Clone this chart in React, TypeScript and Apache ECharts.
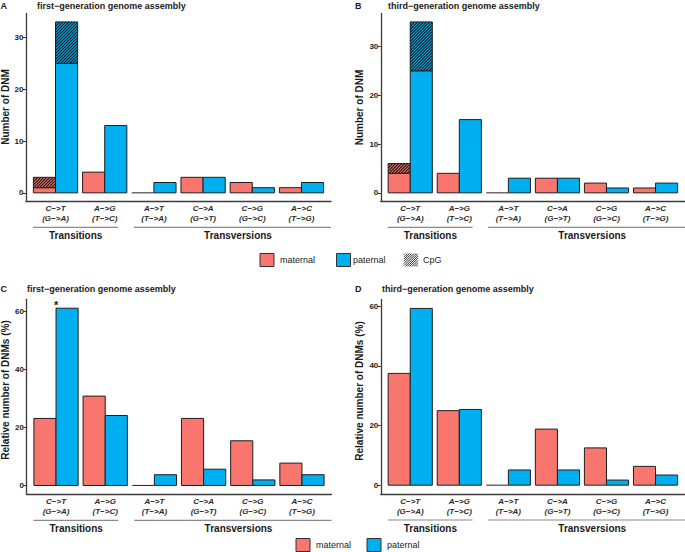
import React, { useEffect, useRef } from "react";
import * as echarts from "echarts";

// ---------- data ----------
const categories = [
  "C−>T\n(G−>A)",
  "A−>G\n(T−>C)",
  "A−>T\n(T−>A)",
  "C−>A\n(G−>T)",
  "C−>G\n(G−>C)",
  "A−>C\n(T−>G)",
];

// Panel A: first-generation genome assembly, counts (non-CpG part + CpG part)
const firstMaternalNonCpG = [1, 4, 0, 3, 2, 1];
const firstMaternalCpG = [2, 0, 0, 0, 0, 0];
const firstPaternalNonCpG = [25, 13, 2, 3, 1, 2];
const firstPaternalCpG = [8, 0, 0, 0, 0, 0];

// Panel B: third-generation genome assembly, counts
const thirdMaternalNonCpG = [4, 4, 0, 3, 2, 1];
const thirdMaternalCpG = [2, 0, 0, 0, 0, 0];
const thirdPaternalNonCpG = [25, 15, 3, 3, 1, 2];
const thirdPaternalCpG = [10, 0, 0, 0, 0, 0];

// Panel C: first-generation, relative (%)
const firstMaternalPct = [23.1, 30.8, 0, 23.1, 15.4, 7.7];
const firstPaternalPct = [61.1, 24.1, 3.7, 5.6, 1.9, 3.7];

// Panel D: third-generation, relative (%)
const thirdMaternalPct = [37.5, 25.0, 0, 18.8, 12.5, 6.3];
const thirdPaternalPct = [59.3, 25.4, 5.1, 5.1, 1.7, 3.4];

const countTicks = [0, 10, 20, 30];
const pctTicks = [0, 20, 40, 60];
const categoryPositions = [0, 1, 2, 3, 4, 5];

// ---------- style ----------
const MAT = "#F8766D";
const PAT = "#00AFEF";
const FONT = "'Liberation Sans', Arial, Helvetica, sans-serif";
const TXT = "#1a1a1a";

type Item = [number, number, number, number, number];

function buildCountItems(mb: number[], mc: number[], pb: number[], pc: number[]): Item[] {
  const items: Item[] = [];
  categories.forEach((_, i) => {
    items.push([i, 0, mb[i], 0, 0]);
    if (mc[i] > 0) items.push([i, mb[i], mb[i] + mc[i], 0, 1]);
    items.push([i, 0, pb[i], 1, 0]);
    if (pc[i] > 0) items.push([i, pb[i], pb[i] + pc[i], 1, 1]);
  });
  return items;
}

function buildPctItems(m: number[], p: number[]): Item[] {
  const items: Item[] = [];
  categories.forEach((_, i) => {
    items.push([i, 0, m[i], 0, 0]);
    items.push([i, 0, p[i], 1, 0]);
  });
  return items;
}

function hatchLines(x: number, y: number, w: number, h: number, step: number, stroke: string, lw: number) {
  const out: any[] = [];
  for (let c = x + y + step / 2; c < x + w + y + h; c += step) {
    const xa = Math.max(x, c - (y + h));
    const xb = Math.min(x + w, c - y);
    if (xb <= xa) continue;
    out.push({
      type: "line",
      shape: { x1: xa, y1: c - xa, x2: xb, y2: c - xb },
      style: { stroke, lineWidth: lw },
      silent: true,
    });
  }
  return out;
}

const renderBar = (params: any, api: any) => {
  const i = api.value(0);
  const lo = api.value(1);
  const hi = api.value(2);
  const side = api.value(3);
  const hatch = api.value(4);
  const x0 = side === 0 ? i - 0.45 : i;
  const x1 = x0 + 0.45;
  const p0 = api.coord([x0, lo]);
  const p1 = api.coord([x1, hi]);
  const x = p0[0];
  const w = p1[0] - p0[0];
  const y = p1[1];
  const h = p0[1] - p1[1];
  const fill = side === 0 ? MAT : PAT;
  if (h < 0.5) {
    return {
      type: "line",
      shape: { x1: x, y1: p0[1], x2: x + w, y2: p0[1] },
      style: { stroke: "#222", lineWidth: 1 },
    };
  }
  const children: any[] = [
    { type: "rect", shape: { x, y, width: w, height: h }, style: { fill, stroke: "none" } },
  ];
  if (hatch) children.push(...hatchLines(x, y, w, h, 3, "#111", 1.1));
  children.push({
    type: "rect",
    shape: { x, y, width: w, height: h },
    style: { fill: "none", stroke: "#1f1f1f", lineWidth: 1 },
  });
  return { type: "group", children };
};

const grids = [
  { left: 26, top: 13.4, width: 305, height: 188 },
  { left: 380.8, top: 13.4, width: 304.5, height: 188 },
  { left: 26.5, top: 299.3, width: 305, height: 195 },
  { left: 380.8, top: 299.5, width: 304.5, height: 194.5 },
];
const yRanges = [
  [-1.65, 34.65],
  [-1.75, 36.75],
  [-3.055, 64.17],
  [-2.966, 62.29],
];
const yTicks = [countTicks, countTicks, pctTicks, pctTicks];
const panelItems = [
  buildCountItems(firstMaternalNonCpG, firstMaternalCpG, firstPaternalNonCpG, firstPaternalCpG),
  buildCountItems(thirdMaternalNonCpG, thirdMaternalCpG, thirdPaternalNonCpG, thirdPaternalCpG),
  buildPctItems(firstMaternalPct, firstPaternalPct),
  buildPctItems(thirdMaternalPct, thirdPaternalPct),
];

const panelLetters = ["A", "B", "C", "D"];
const panelTitles = [
  "first−generation genome assembly",
  "third−generation genome assembly",
  "first−generation genome assembly",
  "third−generation genome assembly",
];
const yNames = ["Number of DNM", "Number of DNM", "Relative number of DNMs (%)", "Relative number of DNMs (%)"];
const groupNames = ["Transitions", "Transversions"];

export default function App() {
  const ref = useRef<HTMLDivElement>(null);
  useEffect(() => {
    if (!ref.current) return;
    const chart = echarts.init(ref.current, undefined, { renderer: "svg" });
    const axisLineStyle = { color: "#3a3a3a", width: 1.3 };
    const option: any = {
      animation: false,
      textStyle: { fontFamily: FONT },
      grid: grids.map((g) => ({ ...g, containLabel: false })),
      xAxis: grids.map((_, gi) => ({
        type: "value",
        gridIndex: gi,
        min: -0.6,
        max: 5.6,
        position: "bottom",
        axisLine: { show: true, onZero: false, lineStyle: axisLineStyle },
        axisTick: { show: false },
        splitLine: { show: false },
        axisLabel: {
          customValues: categoryPositions,
          formatter: (v: number) => categories[Math.round(v)],
          fontStyle: "italic",
          fontWeight: "bold",
          fontSize: 8,
          lineHeight: 10,
          color: "#2a2a2a",
          margin: 2,
          fontFamily: FONT,
        },
      })),
      yAxis: grids.map((_, gi) => ({
        type: "value",
        gridIndex: gi,
        min: yRanges[gi][0],
        max: yRanges[gi][1],
        axisLine: { show: true, onZero: false, lineStyle: axisLineStyle },
        axisTick: { show: true, customValues: yTicks[gi], length: 3, lineStyle: { color: "#333", width: 1 } },
        splitLine: { show: false },
        axisLabel: {
          customValues: yTicks[gi],
          fontWeight: "bold",
          fontSize: 8,
          color: "#222",
          margin: 2.5,
          fontFamily: FONT,
        },
      })),
      series: panelItems.map((items, gi) => ({
        type: "custom",
        xAxisIndex: gi,
        yAxisIndex: gi,
        data: items,
        encode: { x: 0, y: 2 },
        renderItem: renderBar,
      })),
    };
    chart.setOption(option);

    const graphic: any[] = [];
    const letterXs = [0.5, 355, 0.5, 355];
    const titleXs = [37, 388, 27, 382];
    const titleYs = [5.5, 5.5, 288.5, 288.5];
    const yNamePos = [
      [5.5, 107],
      [359.5, 107.5],
      [5.5, 390],
      [359.5, 391],
    ];
    for (let gi = 0; gi < 4; gi++) {
      graphic.push({
        type: "text",
        x: letterXs[gi],
        y: titleYs[gi],
        style: { text: panelLetters[gi], font: `bold 9px ${FONT}`, fill: TXT, verticalAlign: "middle", align: "left" },
      });
      graphic.push({
        type: "text",
        x: titleXs[gi],
        y: titleYs[gi],
        style: { text: panelTitles[gi], font: `bold 9px ${FONT}`, fill: TXT, verticalAlign: "middle", align: "left" },
      });
      graphic.push({
        type: "text",
        x: yNamePos[gi][0],
        y: yNamePos[gi][1],
        rotation: Math.PI / 2,
        style: { text: yNames[gi], font: `bold 10px ${FONT}`, fill: TXT, verticalAlign: "middle", align: "center" },
      });
      // group brackets
      const bottom = grids[gi].top + grids[gi].height;
      const brackets = [
        [-0.46, 1.27, 0.41],
        [1.59, 5.6, 3.71],
      ];
      brackets.forEach((b, k) => {
        const pa = chart.convertToPixel({ gridIndex: gi } as any, [b[0], 0]) as number[];
        const pb = chart.convertToPixel({ gridIndex: gi } as any, [b[1], 0]) as number[];
        const pc = chart.convertToPixel({ gridIndex: gi } as any, [b[2], 0]) as number[];
        graphic.push({
          type: "line",
          shape: { x1: pa[0], y1: bottom + 26, x2: Math.min(pb[0], 685), y2: bottom + 26 },
          style: { stroke: "#8a8a8a", lineWidth: 1.2 },
        });
        graphic.push({
          type: "text",
          x: pc[0],
          y: bottom + 34,
          style: { text: groupNames[k], font: `bold 10px ${FONT}`, fill: TXT, align: "center", verticalAlign: "middle" },
        });
      });
    }
    // significance asterisk over C->T paternal in panel C
    const star = chart.convertToPixel({ gridIndex: 2 } as any, [0, firstPaternalPct[0]]) as number[];
    graphic.push({
      type: "text",
      x: star[0],
      y: star[1] - 3,
      style: { text: "*", font: `bold 11px ${FONT}`, fill: TXT, align: "center", verticalAlign: "middle" },
    });

    // legends
    const addLegend = (cy: number, entries: { x: number; tx: number; label: string; kind: string }[]) => {
      entries.forEach((e) => {
        const bx = e.x, by = cy - 6.5, bw = 14, bh = 13;
        if (e.kind === "hatch") {
          graphic.push({ type: "rect", shape: { x: bx, y: by, width: bw, height: bh }, style: { fill: "#fff", stroke: "none" } });
          hatchLines(bx, by, bw, bh, 2.2, "#333", 1).forEach((l) => graphic.push(l));
        } else {
          graphic.push({
            type: "rect",
            shape: { x: bx, y: by, width: bw, height: bh },
            style: { fill: e.kind === "mat" ? MAT : PAT, stroke: "#333", lineWidth: 1 },
          });
        }
        graphic.push({
          type: "text",
          x: e.tx,
          y: cy,
          style: { text: e.label, font: `9px ${FONT}`, fill: "#222", align: "left", verticalAlign: "middle" },
        });
      });
    };
    addLegend(260, [
      { x: 260, tx: 280, label: "maternal", kind: "mat" },
      { x: 336.5, tx: 353, label: "paternal", kind: "pat" },
      { x: 404, tx: 423, label: "CpG", kind: "hatch" },
    ]);
    addLegend(545, [
      { x: 296, tx: 316, label: "maternal", kind: "mat" },
      { x: 367, tx: 387, label: "paternal", kind: "pat" },
    ]);

    chart.setOption({ graphic });
    return () => chart.dispose();
  }, []);
  return <div ref={ref} style={{ width: 685, height: 552, position: "absolute", left: 0, top: 0, background: "#fff" }} />;
}
